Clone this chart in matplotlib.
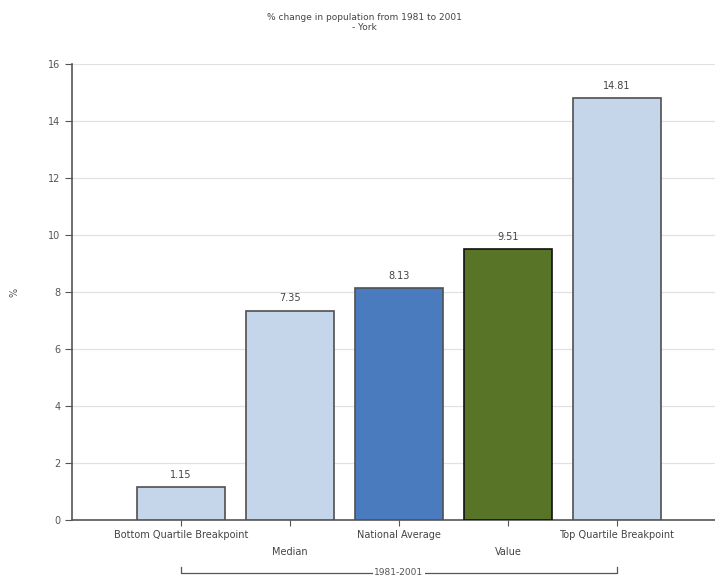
import numpy as np
import matplotlib
matplotlib.use("Agg")
import matplotlib.pyplot as plt

# data
categories = ['Bottom Quartile Breakpoint', 'Median', 'National Average', 'Value', 'Top Quartile Breakpoint']
values = [1.15, 7.35, 8.13, 9.51, 14.81]
colors = ['#c5d5ea', '#c5d5ea', '#4b7bbf', '#587427', '#c5d5ea']
edges = ['#505050', '#505050', '#505050', '#111111', '#505050']
period = '1981-2001'
title = '% change in population from 1981 to 2001\n- York'

fig = plt.figure(figsize=(7.15, 5.83), dpi=100)
ax = fig.add_axes([0.1007, 0.108, 0.8993, 0.782])

x = np.arange(len(categories))
bars = ax.bar(x, values, width=0.8, color=colors, edgecolor=edges, linewidth=1.2, zorder=3)
for xi, v in zip(x, values):
    ax.text(xi, v + 0.25, '%.2f' % v, ha='center', va='bottom', fontsize=7, color='#444444')

ax.set_xlim(-1.0, 4.9)
ax.set_ylim(0, 16)
ax.set_yticks(np.arange(0, 17, 2))
ax.yaxis.grid(True, color='#e2e2e2', linewidth=0.9, zorder=0)
ax.set_axisbelow(True)

# alternating x labels: even index on first row, odd on second row
ax.set_xticks(x)
ax.set_xticklabels([''] * len(x))
for xi, lab in zip(x, categories):
    yoff = -0.033 if xi % 2 == 0 else -0.070
    ax.text(xi, yoff, lab, transform=ax.get_xaxis_transform(), ha='center', va='center',
            fontsize=7, color='#444444')

for s in ['top', 'right']:
    ax.spines[s].set_visible(False)
for s in ['left', 'bottom']:
    ax.spines[s].set_color('#555555')
    ax.spines[s].set_linewidth(1.2)
ax.tick_params(axis='y', colors='#555555', labelsize=7, length=5, labelcolor='#555555')
ax.tick_params(axis='x', colors='#555555', length=4, direction='out')

ax.set_ylabel('%', fontsize=7, color='#555555')
ax.yaxis.set_label_coords(-0.081, 0.5)

# period bracket under the category labels
tr = ax.get_xaxis_transform()
yb = -0.116
ax.plot([0, 0, 4, 4], [yb + 0.012, yb, yb, yb + 0.012], transform=tr, color='#555555',
        linewidth=0.9, clip_on=False)
ax.text(2, yb, period, transform=tr, ha='center', va='center', fontsize=6.5, color='#555555',
        bbox=dict(facecolor='white', edgecolor='none', pad=1))

fig.text(0.51, 0.962, title, ha='center', va='center', fontsize=6.5, color='#444444',
         linespacing=1.1)

fig.savefig('out.png', dpi=100)
